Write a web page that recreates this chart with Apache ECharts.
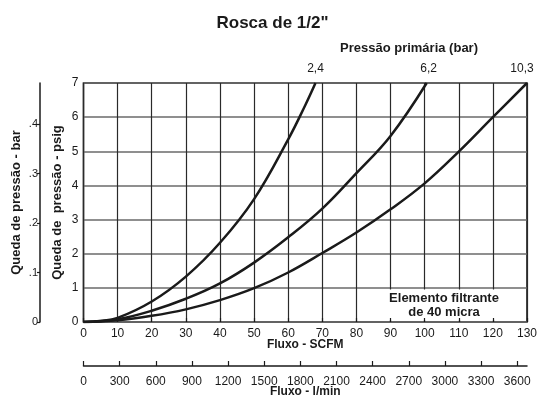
<!DOCTYPE html>
<html>
<head>
<meta charset="utf-8">
<script src="https://cdn.jsdelivr.net/npm/echarts@6/dist/echarts.min.js"></script>
<style>
  html, body { margin: 0; padding: 0; background: #fff; }
  #chart { width: 545px; height: 396px; }
</style>
</head>
<body>
<div id="chart"></div>
<script>
// Pressure drop (psig) versus flow (SCFM), one curve per inlet pressure
const inletPressures = ['2,4', '6,2', '10,3'];

const flow24 = [0, 5, 10, 20, 30, 40, 50, 60, 65, 68];
const drop24 = [0, 0.03, 0.12, 0.6, 1.33, 2.32, 3.6, 5.35, 6.35, 7];

const flow62 = [0, 10, 20, 30, 40, 50, 60, 70, 80, 90, 100.6];
const drop62 = [0, 0.08, 0.33, 0.68, 1.13, 1.74, 2.48, 3.32, 4.36, 5.45, 7];

const flow103 = [0, 10, 20, 30, 40, 50, 60, 70, 80, 90, 100, 110, 120, 130];
const drop103 = [0, 0.05, 0.18, 0.37, 0.64, 0.99, 1.45, 2.02, 2.62, 3.3, 4.06, 4.99, 6.0, 7];

// Secondary scales
const barTicks = [0, 0.1, 0.2, 0.3, 0.4];
const lpmTicks = [0, 300, 600, 900, 1200, 1500, 1800, 2100, 2400, 2700, 3000, 3300, 3600];
const PSI_PER_BAR = 14.5;
const LPM_PER_SCFM = 28.317;

const FONT = '"Liberation Sans", Arial, Helvetica, sans-serif';
const INK = '#1a1a1a';

const curves = [
  { name: inletPressures[0], x: flow24, y: drop24, offset: [0, 0] },
  { name: inletPressures[1], x: flow62, y: drop62, offset: [2, 0] },
  { name: inletPressures[2], x: flow103, y: drop103, offset: [-5, 0] }
];

const chart = echarts.init(document.getElementById('chart'), null, { renderer: 'canvas' });

const series = curves.map(c => ({
  type: 'line',
  name: c.name,
  xAxisIndex: 0,
  yAxisIndex: 0,
  smooth: 0.4,
  symbol: 'circle',
  symbolSize: 0,
  showSymbol: true,
  silent: true,
  z: 3,
  lineStyle: { color: INK, width: 2.5 },
  itemStyle: { color: INK },
  data: c.x.map((xv, i) => {
    const item = { value: [xv, c.y[i]] };
    if (i === c.x.length - 1) {
      item.label = {
        show: true,
        position: 'top',
        distance: 8,
        offset: c.offset,
        formatter: c.name,
        color: INK,
        fontFamily: FONT,
        fontSize: 12
      };
    }
    return item;
  })
}));

const option = {
  animation: false,
  backgroundColor: '#fff',
  textStyle: { fontFamily: FONT },
  title: {
    text: 'Rosca de 1/2"',
    left: 'center',
    top: 10,
    textStyle: { fontFamily: FONT, fontSize: 17, fontWeight: 'bold', color: INK }
  },
  grid: {
    left: 83.5, top: 83, right: 18, bottom: 74,
    outerBoundsMode: 'none',
    containLabel: false,
    show: true,
    borderColor: INK,
    borderWidth: 1.6,
    backgroundColor: 'transparent'
  },
  xAxis: [
    {
      type: 'value',
      gridIndex: 0,
      min: 0, max: 130, interval: 10,
      position: 'bottom',
      name: 'Fluxo - SCFM',
      nameLocation: 'middle',
      nameGap: 17,
      nameMoveOverlap: false,
      nameTextStyle: { fontFamily: FONT, fontSize: 12, fontWeight: 'bold', color: INK },
      axisLine: { show: false, onZero: false },
      axisTick: { show: false },
      axisLabel: { margin: 6, fontSize: 12, color: INK, fontFamily: FONT },
      splitLine: { show: true, lineStyle: { color: '#2a2a2a', width: 1.2 } }
    },
    {
      // flow in l/min, same physical scale as SCFM
      type: 'value',
      gridIndex: 0,
      min: 0, max: 130 * LPM_PER_SCFM,
      position: 'bottom',
      offset: 44,
      name: 'Fluxo - l/min',
      nameLocation: 'middle',
      nameGap: 20,
      nameMoveOverlap: false,
      nameTextStyle: { fontFamily: FONT, fontSize: 12, fontWeight: 'bold', color: INK },
      axisLine: { show: true, onZero: false, lineStyle: { color: INK, width: 1.5 } },
      axisTick: { show: true, inside: true, length: 5, customValues: lpmTicks, lineStyle: { color: INK, width: 1.2 } },
      axisLabel: {
        margin: 10, fontSize: 12, color: INK, fontFamily: FONT,
        customValues: lpmTicks,
        formatter: v => String(Math.round(v))
      },
      splitLine: { show: false }
    },
    {
      // inner tick marks kept above the note box
      type: 'value',
      gridIndex: 0,
      min: 0, max: 130, interval: 10,
      position: 'bottom',
      z: 6,
      axisLine: { show: false, onZero: false },
      axisTick: { show: true, inside: true, length: 4, lineStyle: { color: INK, width: 1.2 } },
      axisLabel: { show: false },
      splitLine: { show: false }
    }
  ],
  yAxis: [
    {
      type: 'value',
      gridIndex: 0,
      min: 0, max: 7, interval: 1,
      position: 'left',
      name: 'Queda de  pressão - psig',
      nameLocation: 'middle',
      nameRotate: 90,
      nameGap: 20,
      nameMoveOverlap: false,
      nameTextStyle: { fontFamily: FONT, fontSize: 13, fontWeight: 'bold', color: INK },
      axisLine: { show: false, onZero: false },
      axisTick: { show: false },
      axisLabel: { margin: 5, fontSize: 12, color: INK, fontFamily: FONT },
      splitLine: { show: true, lineStyle: { color: '#6a6a6a', width: 1.5 } }
    },
    {
      type: 'value',
      gridIndex: 0,
      min: 0, max: 7 / PSI_PER_BAR,
      position: 'left',
      offset: 43.5,
      name: 'Queda de pressão - bar',
      nameLocation: 'middle',
      nameRotate: 90,
      nameGap: 17,
      nameMoveOverlap: false,
      nameTextStyle: { fontFamily: FONT, fontSize: 13, fontWeight: 'bold', color: INK },
      axisLine: { show: true, onZero: false, lineStyle: { color: INK, width: 1.5 } },
      axisTick: { show: true, length: 3, customValues: barTicks, lineStyle: { color: INK, width: 1.2 } },
      axisLabel: {
        margin: 2, fontSize: 11, color: INK, fontFamily: FONT,
        customValues: barTicks,
        formatter: v => (v === 0 ? '0' : '.' + Math.round(v * 10))
      },
      splitLine: { show: false }
    }
  ],
  graphic: [
    {
      type: 'text',
      left: 340,
      top: 42,
      z: 5,
      style: {
        text: 'Pressão primária (bar)',
        font: 'bold 13px ' + FONT,
        fill: INK
      }
    },
    {
      type: 'rect',
      shape: { x: 378, y: 289.5, width: 140, height: 30.5 },
      z: 1,
      silent: true,
      style: { fill: '#fff' }
    },
    {
      type: 'text',
      x: 444,
      y: 291,
      z: 5,
      style: {
        text: 'Elemento filtrante\nde 40 micra',
        font: 'bold 13px ' + FONT,
        fill: INK,
        textAlign: 'center',
        lineHeight: 14
      }
    }
  ],
  series: series
};

chart.setOption(option);
</script>
</body>
</html>
